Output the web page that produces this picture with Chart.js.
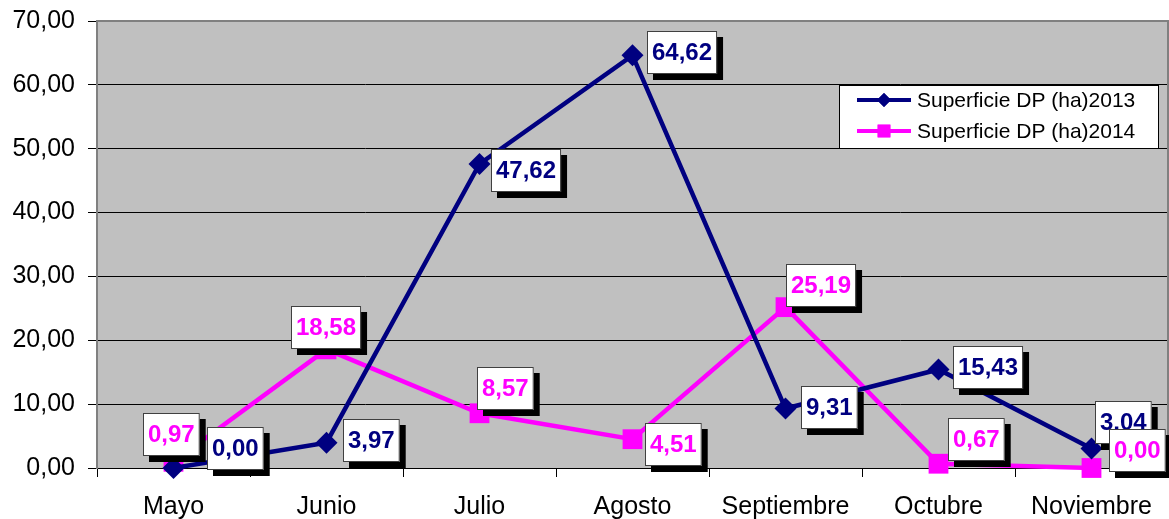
<!DOCTYPE html>
<html>
<head>
<meta charset="utf-8">
<script src="https://cdn.jsdelivr.net/npm/chart.js@4/dist/chart.umd.min.js"></script>
<style>
  body { margin: 0; background: #fff; }
</style>
</head>
<body>
<canvas id="grafico" width="1169" height="519"></canvas>
<script>
/* datos */
const meses = ['Mayo', 'Junio', 'Julio', 'Agosto', 'Septiembre', 'Octubre', 'Noviembre'];
const sup2013 = [0.00, 3.97, 47.62, 64.62, 9.31, 15.43, 3.04];
const sup2014 = [0.97, 18.58, 8.57, 4.51, 25.19, 0.67, 0.00];
const nombres = ['Superficie DP (ha)2013', 'Superficie DP (ha)2014'];
const ejeY = { min: 0, max: 70, paso: 10 };

/* desplazamiento de las etiquetas (px) respecto al punto, como en Excel */
const despl2013 = [[62, -20], [45, -2], [47, 7], [50, -3], [44, -1], [50, -2], [32, -26]];
const despl2014 = [[-2, -27], [0, -22], [26, -25], [41, 5], [36, -22], [38, -24], [46, -18]];

const AZUL = '#000080';
const ROSA = '#FF00FF';
const FUENTE = 'Arial, "Liberation Sans", sans-serif';

const coma = v => v.toFixed(2).replace('.', ',');

/* fondo gris del área de trazado + marco */
const fondo = {
    id: 'fondo',
    beforeDraw(chart) {
        const { ctx, chartArea: a } = chart;
        ctx.save();
        ctx.fillStyle = '#C0C0C0';
        ctx.fillRect(a.left, a.top, a.right - a.left, a.bottom - a.top);
        ctx.restore();
    },
    beforeDatasetsDraw(chart) {
        const { ctx, chartArea: a } = chart;
        ctx.save();
        ctx.strokeStyle = '#808080';
        ctx.lineWidth = 2;
        ctx.beginPath();
        ctx.moveTo(a.left, a.top);
        ctx.lineTo(a.right, a.top);
        ctx.lineTo(a.right, a.bottom);
        ctx.stroke();
        ctx.restore();
    }
};

/* etiquetas de datos con caja blanca y sombra */
const etiquetas = {
    id: 'etiquetas',
    afterDatasetsDraw(chart) {
        const { ctx } = chart;
        const grupos = [[0, despl2013, AZUL], [1, despl2014, ROSA]];
        ctx.save();
        ctx.font = 'bold 24px ' + FUENTE;
        ctx.textAlign = 'center';
        ctx.textBaseline = 'middle';
        grupos.forEach(([i, despl, color]) => {
            const meta = chart.getDatasetMeta(i);
            meta.data.forEach((p, j) => {
                const txt = coma(chart.data.datasets[i].data[j]);
                const w = ctx.measureText(txt).width + 10;
                const h = 43;
                const cx = p.x + despl[j][0];
                const cy = p.y + despl[j][1];
                const x0 = Math.round(cx - w / 2), y0 = Math.round(cy - h / 2);
                ctx.fillStyle = '#000';
                ctx.fillRect(x0 + 6, y0 + 6, w, h);
                ctx.fillStyle = '#fff';
                ctx.fillRect(x0, y0, w, h);
                ctx.strokeStyle = '#404040';
                ctx.lineWidth = 1;
                ctx.strokeRect(x0 + 0.5, y0 + 0.5, w - 1, h - 1);
                ctx.fillStyle = color;
                ctx.fillText(txt, x0 + w / 2, y0 + h / 2 + 1);
            });
        });
        ctx.restore();
    }
};

/* leyenda dentro del área de trazado */
const leyenda = {
    id: 'leyenda',
    afterDraw(chart) {
        const { ctx } = chart;
        const x = 839, y = 85, w = 320, h = 64;
        ctx.save();
        ctx.fillStyle = '#fff';
        ctx.fillRect(x, y, w, h);
        ctx.strokeStyle = '#000';
        ctx.lineWidth = 1;
        ctx.strokeRect(x + 0.5, y + 0.5, w - 1, h - 1);
        const filas = [[AZUL, 'rectRot', 7], [ROSA, 'rect', 9]];
        ctx.font = '21px ' + FUENTE;
        ctx.textBaseline = 'middle';
        filas.forEach(([color, estilo, r], k) => {
            const yy = y + 15 + k * 31;
            ctx.strokeStyle = color;
            ctx.lineWidth = 4;
            ctx.beginPath();
            ctx.moveTo(857, yy);
            ctx.lineTo(911, yy);
            ctx.stroke();
            ctx.fillStyle = color;
            Chart.helpers.drawPoint(ctx, { pointStyle: estilo, radius: r, borderWidth: 0 }, 884, yy);
            ctx.fill();
            ctx.fillStyle = '#000';
            ctx.fillText(nombres[k], 917, yy + 1);
        });
        ctx.restore();
    }
};

new Chart(document.getElementById('grafico'), {
    type: 'line',
    data: {
        labels: meses,
        datasets: [{
            label: nombres[0],
            data: sup2013,
            borderColor: AZUL,
            backgroundColor: AZUL,
            borderWidth: 4.5,
            pointStyle: 'rectRot',
            pointRadius: 11,
            pointBorderWidth: 0,
            tension: 0,
            clip: false
        }, {
            label: nombres[1],
            data: sup2014,
            borderColor: ROSA,
            backgroundColor: ROSA,
            borderWidth: 4.5,
            pointStyle: 'rect',
            pointRadius: 14,
            pointBorderWidth: 0,
            tension: 0,
            clip: false
        }]
    },
    options: {
        responsive: false,
        animation: false,
        layout: { autoPadding: false, padding: { top: 21, right: 1, left: 0, bottom: 0 } },
        scales: {
            x: {
                offset: true,
                afterFit: s => { s.height = 51; s.paddingLeft = 0; s.paddingRight = 0; },
                grid: {
                    offset: true,
                    drawOnChartArea: false,
                    tickLength: 9,
                    tickColor: '#000'
                },
                border: { color: '#000', width: 1 },
                ticks: {
                    color: '#000',
                    padding: 15,
                    maxRotation: 0,
                    autoSkip: false,
                    font: { family: FUENTE, size: 25 }
                }
            },
            y: {
                min: ejeY.min,
                max: ejeY.max,
                afterFit: s => { s.width = 97; s.paddingTop = 0; s.paddingBottom = 0; },
                grid: {
                    color: '#000',
                    lineWidth: 1,
                    tickLength: 9,
                    tickColor: '#000'
                },
                border: { color: '#808080', width: 2 },
                ticks: {
                    stepSize: ejeY.paso,
                    color: '#000',
                    padding: 13,
                    font: { family: FUENTE, size: 25 },
                    callback: v => coma(v)
                }
            }
        },
        plugins: {
            legend: { display: false },
            tooltip: { enabled: false }
        }
    },
    plugins: [fondo, etiquetas, leyenda]
});
</script>
</body>
</html>
